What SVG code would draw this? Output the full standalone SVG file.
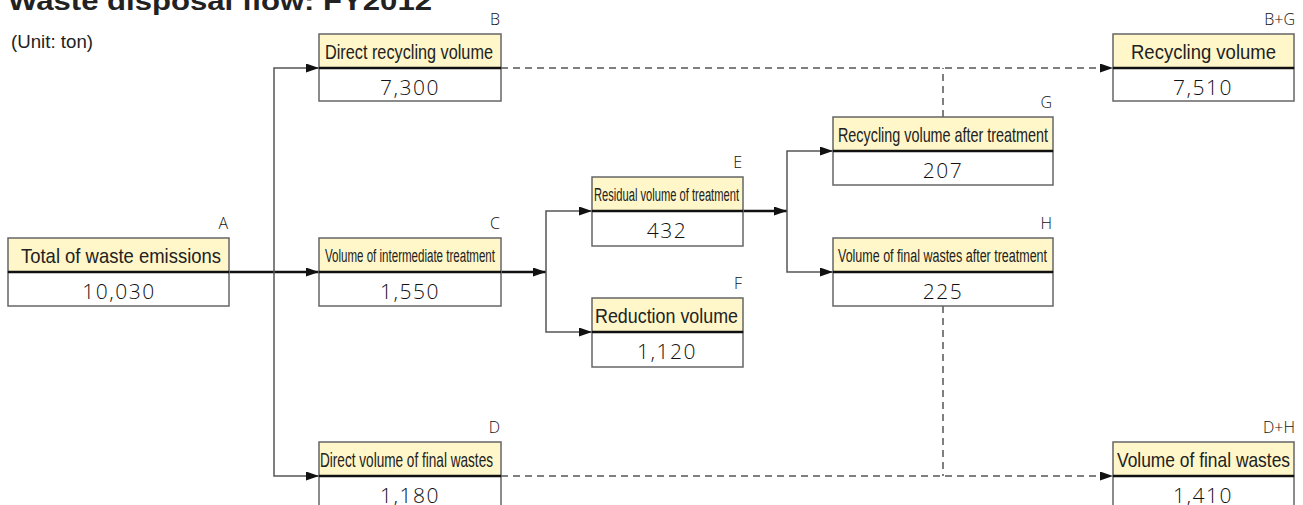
<svg xmlns="http://www.w3.org/2000/svg" width="1303" height="505" viewBox="0 0 1303 505">
<style>
.hd{fill:#FFF7C9;stroke:#666;stroke-width:1.5}
.vb{fill:#fff;stroke:#666;stroke-width:1.5}
.dv{stroke:#111;stroke-width:2.5}
.ht{font-family:"Liberation Sans",Arial,sans-serif;font-size:21px;fill:#222}
.hs{font-family:"Liberation Sans",Arial,sans-serif;font-size:18px;fill:#222}
.vt{font-family:"Open Sans","DejaVu Sans",sans-serif;font-weight:300;font-size:21px;fill:#111;text-anchor:middle;letter-spacing:1.5px}
.lt{font-family:"Open Sans","DejaVu Sans",sans-serif;font-weight:300;font-size:16px;fill:#111;text-anchor:end}
.th{fill:none;stroke:#111;stroke-width:2.5}
.tn{fill:none;stroke:#555;stroke-width:1.5}
.ds{fill:none;stroke:#555;stroke-width:1.5;stroke-dasharray:7,5}
</style>
<defs>
<marker id="ar" markerUnits="userSpaceOnUse" markerWidth="13" markerHeight="9" refX="13" refY="4.5" orient="auto">
<path d="M0,0 L13,4.5 L0,9 z" fill="#111"/>
</marker>
</defs>
<text x="8" y="10" font-family="Liberation Sans,Arial,sans-serif" font-weight="bold" font-size="26" fill="#222" textLength="424" lengthAdjust="spacingAndGlyphs">Waste disposal flow: FY2012</text>
<text x="11" y="48" font-family="Liberation Sans,Arial,sans-serif" font-size="19" fill="#222" textLength="82" lengthAdjust="spacingAndGlyphs">(Unit: ton)</text>

<g id="connectors">
<path class="th" d="M229,272 H319" marker-end="url(#ar)"/>
<path class="tn" d="M274,272 V68 H319" marker-end="url(#ar)"/>
<path class="tn" d="M274,272 V476 H319" marker-end="url(#ar)"/>
<path class="th" d="M501,272 H546" marker-end="url(#ar)"/>
<path class="tn" d="M546,272 V211 H592" marker-end="url(#ar)"/>
<path class="tn" d="M546,272 V332 H592" marker-end="url(#ar)"/>
<path class="th" d="M743,211 H787" marker-end="url(#ar)"/>
<path class="tn" d="M787,211 V151 H833" marker-end="url(#ar)"/>
<path class="tn" d="M787,211 V272 H833" marker-end="url(#ar)"/>
<path class="ds" d="M501,68 H1113" marker-end="url(#ar)"/>
<path class="ds" d="M943,117 V68"/>
<path class="ds" d="M501,476 H1113" marker-end="url(#ar)"/>
<path class="ds" d="M943,306 V476"/>
</g>

<g id="nodeA">
<rect class="hd" x="8" y="238" width="221" height="34"/>
<rect class="vb" x="8" y="272" width="221" height="34"/>
<line class="dv" x1="8" y1="272" x2="229" y2="272"/>
<text class="lt" x="228" y="229">A</text>
<text class="ht" x="21" y="263" textLength="200" lengthAdjust="spacingAndGlyphs">Total of waste emissions</text>
<text class="vt" x="119" y="299">10,030</text>
</g>

<g id="nodeB">
<rect class="hd" x="319" y="34" width="182" height="34"/>
<rect class="vb" x="319" y="68" width="182" height="33"/>
<line class="dv" x1="319" y1="68" x2="501" y2="68"/>
<text class="lt" x="500" y="25">B</text>
<text class="ht" x="325" y="59" textLength="168" lengthAdjust="spacingAndGlyphs">Direct recycling volume</text>
<text class="vt" x="410" y="95">7,300</text>
</g>

<g id="nodeC">
<rect class="hd" x="319" y="238" width="182" height="34"/>
<rect class="vb" x="319" y="272" width="182" height="34"/>
<line class="dv" x1="319" y1="272" x2="501" y2="272"/>
<text class="lt" x="500" y="229">C</text>
<text class="hs" x="325" y="262" textLength="170" lengthAdjust="spacingAndGlyphs">Volume of intermediate treatment</text>
<text class="vt" x="410" y="299">1,550</text>
</g>

<g id="nodeD">
<rect class="hd" x="319" y="442" width="182" height="34"/>
<rect class="vb" x="319" y="476" width="182" height="34"/>
<line class="dv" x1="319" y1="476" x2="501" y2="476"/>
<text class="lt" x="500" y="433">D</text>
<text class="ht" x="320" y="467" textLength="173" lengthAdjust="spacingAndGlyphs">Direct volume of final wastes</text>
<text class="vt" x="410" y="503">1,180</text>
</g>

<g id="nodeE">
<rect class="hd" x="592" y="177" width="151" height="34"/>
<rect class="vb" x="592" y="211" width="151" height="35"/>
<line class="dv" x1="592" y1="211" x2="743" y2="211"/>
<text class="lt" x="742" y="168">E</text>
<text class="hs" x="594" y="201" textLength="145" lengthAdjust="spacingAndGlyphs">Residual volume of treatment</text>
<text class="vt" x="667" y="238">432</text>
</g>

<g id="nodeF">
<rect class="hd" x="592" y="298" width="151" height="34"/>
<rect class="vb" x="592" y="332" width="151" height="35"/>
<line class="dv" x1="592" y1="332" x2="743" y2="332"/>
<text class="lt" x="742" y="289">F</text>
<text class="ht" x="595" y="323" textLength="143" lengthAdjust="spacingAndGlyphs">Reduction volume</text>
<text class="vt" x="667" y="359">1,120</text>
</g>

<g id="nodeG">
<rect class="hd" x="833" y="117" width="220" height="34"/>
<rect class="vb" x="833" y="151" width="220" height="34"/>
<line class="dv" x1="833" y1="151" x2="1053" y2="151"/>
<text class="lt" x="1052" y="108">G</text>
<text class="ht" x="838" y="142" textLength="210" lengthAdjust="spacingAndGlyphs">Recycling volume after treatment</text>
<text class="vt" x="943" y="178">207</text>
</g>

<g id="nodeH">
<rect class="hd" x="833" y="238" width="220" height="34"/>
<rect class="vb" x="833" y="272" width="220" height="34"/>
<line class="dv" x1="833" y1="272" x2="1053" y2="272"/>
<text class="lt" x="1052" y="229">H</text>
<text class="hs" x="838" y="262" textLength="209" lengthAdjust="spacingAndGlyphs">Volume of final wastes after treatment</text>
<text class="vt" x="943" y="299">225</text>
</g>

<g id="nodeBG">
<rect class="hd" x="1113" y="34" width="181" height="34"/>
<rect class="vb" x="1113" y="68" width="181" height="33"/>
<line class="dv" x1="1113" y1="68" x2="1294" y2="68"/>
<text class="lt" x="1295" y="25">B+G</text>
<text class="ht" x="1131" y="59" textLength="145" lengthAdjust="spacingAndGlyphs">Recycling volume</text>
<text class="vt" x="1203" y="95">7,510</text>
</g>

<g id="nodeDH">
<rect class="hd" x="1113" y="442" width="181" height="34"/>
<rect class="vb" x="1113" y="476" width="181" height="34"/>
<line class="dv" x1="1113" y1="476" x2="1294" y2="476"/>
<text class="lt" x="1295" y="433">D+H</text>
<text class="ht" x="1117" y="467" textLength="173" lengthAdjust="spacingAndGlyphs">Volume of final wastes</text>
<text class="vt" x="1203" y="503">1,410</text>
</g>
</svg>
